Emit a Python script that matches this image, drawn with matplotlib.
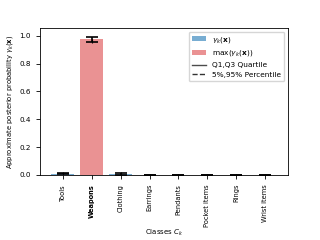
import matplotlib.pyplot as plt
import numpy as np

classes = ["Tools", "Weapons", "Clothing", "Earrings", "Pendants", "Pocket items", "Rings", "Wrist items"]
means = [0.010, 0.976, 0.009, 0.002, 0.002, 0.002, 0.002, 0.002]
q1 = [0.005, 0.955, 0.003, 0.001, 0.001, 0.001, 0.001, 0.001]
q3 = [0.016, 0.988, 0.017, 0.003, 0.003, 0.003, 0.003, 0.003]
p5 = [0.002, 0.948, 0.001, 0.000, 0.000, 0.000, 0.000, 0.000]
p95 = [0.020, 0.990, 0.020, 0.004, 0.004, 0.004, 0.004, 0.004]
max_idx = 1

plt.rcParams['font.size'] = 5.2
fig = plt.figure(figsize=(3.2, 2.4), dpi=100)
ax = fig.add_axes([0.125, 0.271, 0.775, 0.612])

x = np.arange(len(classes))
m = np.array(means)
other = x != max_idx
b1 = ax.bar(x[other], m[other], width=0.8, color="#1f77b4", alpha=0.6)
b2 = ax.bar(x[max_idx], m[max_idx], width=0.8, color="tab:red", alpha=0.5)

eb = ax.errorbar(x, m, yerr=[m - np.array(p5), np.array(p95) - m], fmt="none", ecolor="k",
                 elinewidth=0.8, capsize=0)
eb[2][0].set_linestyle("--")
ax.errorbar(x, m, yerr=[m - np.array(q1), np.array(q3) - m], fmt="none", ecolor="k",
            elinewidth=1.2, capsize=4, capthick=1.2)

l1, = ax.plot([], [], color="k", alpha=0.7, lw=1)
l2, = ax.plot([], [], color="k", alpha=0.8, lw=1, ls="--")

ax.set_xticks(x)
ax.set_xticklabels(classes, rotation=90, fontsize=4.8)
ax.get_xticklabels()[max_idx].set_fontweight("bold")
ax.tick_params(length=3, width=0.6)
for s in ax.spines.values():
    s.set_linewidth(0.6)
ax.set_ylim(0, 1.055)
ax.set_ylabel(r"Approximate posterior probability $\gamma_k(\mathbf{x})$", fontsize=4.9, labelpad=3)
ax.set_xlabel(r"Classes $C_k$", fontsize=5, labelpad=1)
ax.legend([b1, b2, l1, l2],
          [r"$\gamma_k(\mathbf{x})$", r"max($\gamma_k(\mathbf{x})$)", "Q1,Q3 Quartile", "5%,95% Percentile"],
          loc="upper right", fontsize=5.3)

fig.savefig("out.png", dpi=100)
